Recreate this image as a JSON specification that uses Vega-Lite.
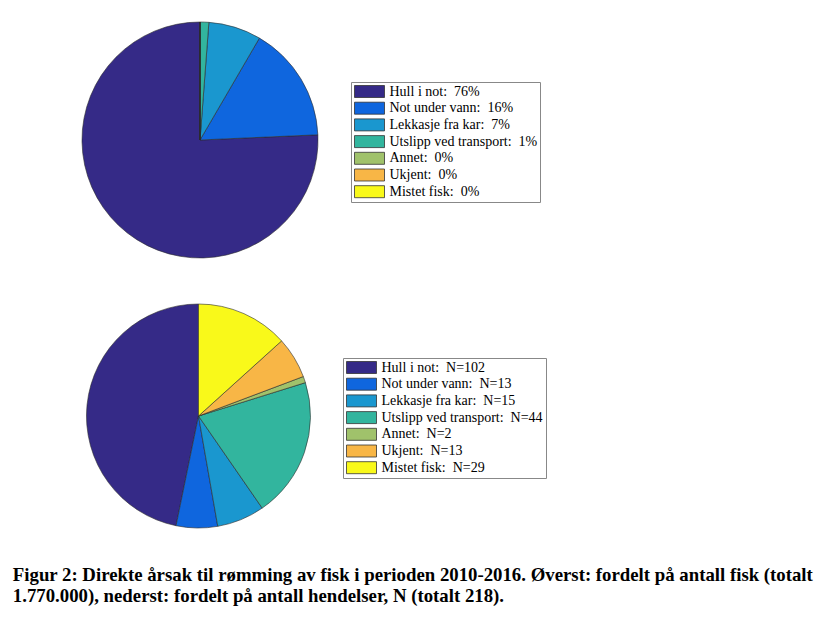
{
  "$schema": "https://vega.github.io/schema/vega-lite/v6.json",
  "background": "white",
  "padding": {"left": 12, "top": 20, "right": 10, "bottom": 10},
  "datasets": {
    "fisk": [
      {"cause": "Hull i not", "label": "Hull i not:\u00a0\u00a076%", "value": 75.7, "order": 1},
      {"cause": "Not under vann", "label": "Not under vann:\u00a0\u00a016%", "value": 15.9, "order": 2},
      {"cause": "Lekkasje fra kar", "label": "Lekkasje fra kar:\u00a0\u00a07%", "value": 7.2, "order": 3},
      {"cause": "Utslipp ved transport", "label": "Utslipp ved transport:\u00a0\u00a01%", "value": 1.2, "order": 4},
      {"cause": "Annet", "label": "Annet:\u00a0\u00a00%", "value": 0, "order": 5},
      {"cause": "Ukjent", "label": "Ukjent:\u00a0\u00a00%", "value": 0, "order": 6},
      {"cause": "Mistet fisk", "label": "Mistet fisk:\u00a0\u00a00%", "value": 0, "order": 7}
    ],
    "hendelser": [
      {"cause": "Hull i not", "label": "Hull i not:\u00a0\u00a0N=102", "value": 102, "order": 1},
      {"cause": "Not under vann", "label": "Not under vann:\u00a0\u00a0N=13", "value": 13, "order": 2},
      {"cause": "Lekkasje fra kar", "label": "Lekkasje fra kar:\u00a0\u00a0N=15", "value": 15, "order": 3},
      {"cause": "Utslipp ved transport", "label": "Utslipp ved transport:\u00a0\u00a0N=44", "value": 44, "order": 4},
      {"cause": "Annet", "label": "Annet:\u00a0\u00a0N=2", "value": 2, "order": 5},
      {"cause": "Ukjent", "label": "Ukjent:\u00a0\u00a0N=13", "value": 13, "order": 6},
      {"cause": "Mistet fisk", "label": "Mistet fisk:\u00a0\u00a0N=29", "value": 29, "order": 7}
    ]
  },
  "title": {
    "text": ["Figur 2: Direkte årsak til rømming av fisk i perioden 2010-2016. Øverst: fordelt på antall fisk (totalt", "1.770.000), nederst: fordelt på antall hendelser, N (totalt 218)."],
    "orient": "bottom",
    "anchor": "start",
    "font": "Liberation Serif",
    "fontWeight": "bold",
    "fontSize": 18.8,
    "color": "black",
    "lineHeight": 21,
    "offset": 37,
    "dx": -68
  },
  "spacing": 42,
  "vconcat": [
    {
      "data": {"name": "fisk"},
      "width": 236,
      "height": 236,
      "mark": {"type": "arc", "outerRadius": 118, "stroke": "#2b2b2b", "strokeWidth": 0.6},
      "encoding": {
        "theta": {"field": "value", "type": "quantitative", "stack": true},
        "order": {"field": "order", "sort": "descending"},
        "color": {
          "field": "label",
          "type": "nominal",
          "sort": {"field": "order", "op": "min"},
          "scale": {"range": ["#352A87", "#0F66DE", "#1A97CF", "#32B59E", "#A0C26B", "#F8B646", "#F9F91A"]},
          "legend": {"title": null, "orient": "none", "legendX": 269, "legendY": 60}
        }
      }
    },
    {
      "data": {"name": "hendelser"},
      "width": 233,
      "height": 224,
      "mark": {"type": "arc", "outerRadius": 112, "stroke": "#2b2b2b", "strokeWidth": 0.6},
      "encoding": {
        "theta": {"field": "value", "type": "quantitative", "stack": true},
        "order": {"field": "order", "sort": "descending"},
        "color": {
          "field": "label",
          "type": "nominal",
          "sort": {"field": "order", "op": "min"},
          "scale": {"range": ["#352A87", "#0F66DE", "#1A97CF", "#32B59E", "#A0C26B", "#F8B646", "#F9F91A"]},
          "legend": {"title": null, "orient": "none", "legendX": 261, "legendY": 54}
        }
      }
    }
  ],
  "resolve": {"scale": {"color": "independent"}, "legend": {"color": "independent"}},
  "config": {
    "view": {"stroke": null},
    "legend": {
      "symbolType": "M-1,-1H4V1H-1Z",
      "symbolSize": 144,
      "symbolStrokeColor": "#333",
      "symbolStrokeWidth": 0.8,
      "symbolOpacity": 1,
      "labelFont": "Liberation Serif",
      "labelFontSize": 14,
      "labelColor": "black",
      "labelOffset": 22,
      "labelLimit": 300,
      "rowPadding": 0.7,
      "strokeColor": "#888",
      "padding": 2.5
    }
  }
}
